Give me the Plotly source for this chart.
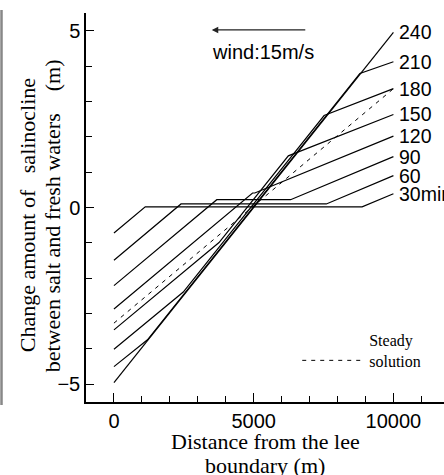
import plotly.graph_objects as go

# Interface displacement (m) along the basin (m) at successive times after wind onset
times = ["30min", "60", "90", "120", "150", "180", "210", "240"]
curve_x = [
    [0, 1120, 8880, 10000],
    [0, 2400, 7600, 10000],
    [0, 3680, 6320, 10000],
    [0, 4960, 5040, 10000],
    [0, 3760, 6240, 10000],
    [0, 2480, 7520, 10000],
    [0, 1200, 8800, 10000],
    [0, 5000, 10000],
]
curve_y = [
    [-0.72, 0.02, 0.02, 0.39],
    [-1.49, 0.10, 0.10, 0.90],
    [-2.21, 0.22, 0.22, 1.44],
    [-2.87, 0.41, 0.41, 2.02],
    [-3.46, -0.99, 1.46, 2.63],
    [-4.01, -2.39, 2.60, 3.36],
    [-4.50, -3.74, 3.79, 4.12],
    [-4.95, 0.00, 4.95],
]

# Steady-state solution
steady_x = [0, 10000]
steady_y = [-3.27, 3.36]

x_ticks = [0, 5000, 10000]
x_tick_text = ["0", "5000", "10000"]
y_ticks = [-5, 0, 5]

SANS = "Liberation Sans, Arial, sans-serif"
SERIF = "Liberation Serif, Times New Roman, serif"

fig = go.Figure()

for xs, ys in zip(curve_x, curve_y):
    fig.add_trace(go.Scatter(
        x=xs, y=ys, mode="lines",
        line=dict(color="black", width=1.2),
        showlegend=False, hoverinfo="skip",
    ))

fig.add_trace(go.Scatter(
    x=steady_x, y=steady_y, mode="lines",
    name="Steady<br>solution",
    line=dict(color="black", width=1, dash="4px,5px"),
    showlegend=True, hoverinfo="skip",
))

annotations = []
for label, xs, ys in zip(times, curve_x, curve_y):
    annotations.append(dict(
        x=xs[-1], y=ys[-1], xref="x", yref="y", text=label,
        showarrow=False, xanchor="left", yanchor="middle", xshift=4,
        font=dict(family=SANS, size=19.5, color="black"),
    ))

# Wind direction arrow and caption
annotations.append(dict(
    x=3500, y=5.02, ax=6900, ay=5.02, xref="x", yref="y", axref="x", ayref="y",
    text="", showarrow=True, arrowhead=2, arrowsize=1, arrowwidth=1.3,
    arrowcolor="#222",
))
annotations.append(dict(
    x=5350, y=4.41, xref="x", yref="y", text="wind:15m/s", showarrow=False,
    xanchor="center", yanchor="middle",
    font=dict(family=SANS, size=20, color="black"),
))

# Axis titles (two lines each)
annotations += [
    dict(x=-0.165, y=0.48, xref="paper", yref="paper",
         text="Change amount of\u00a0\u00a0\u00a0salinocline", textangle=-90,
         showarrow=False, xanchor="center", yanchor="middle",
         font=dict(family=SERIF, size=22, color="black")),
    dict(x=-0.095, y=0.48, xref="paper", yref="paper",
         text="between salt and fresh waters\u00a0\u00a0\u00a0\u00a0(m)", textangle=-90,
         showarrow=False, xanchor="center", yanchor="middle",
         font=dict(family=SERIF, size=22, color="black")),
    dict(x=0.5, y=-0.102, xref="paper", yref="paper",
         text="Distance from the lee", showarrow=False,
         xanchor="center", yanchor="middle",
         font=dict(family=SERIF, size=22, color="black")),
    dict(x=0.5, y=-0.163, xref="paper", yref="paper",
         text="boundary (m)", showarrow=False,
         xanchor="center", yanchor="middle",
         font=dict(family=SERIF, size=22, color="black")),
]

fig.update_layout(
    width=444, height=475,
    margin=dict(l=86, r=0, t=13, b=73),
    paper_bgcolor="white", plot_bgcolor="white",
    annotations=annotations,
    shapes=[dict(type="line", xref="paper", yref="paper",
                 x0=-0.236, x1=-0.236, y0=-0.008, y1=1.008,
                 line=dict(color="#888888", width=2.5))],
    legend=dict(x=0.59, y=0.204, xanchor="left", yanchor="top",
                bgcolor="rgba(0,0,0,0)", valign="bottom", itemwidth=62,
                font=dict(family=SERIF, size=16, color="black")),
    xaxis=dict(
        range=[-1000, 11810], tickmode="array", tickvals=x_ticks,
        ticktext=x_tick_text,
        ticks="inside", ticklen=9, tickwidth=1, tickcolor="black",
        showline=True, linecolor="black", linewidth=1.5, mirror=False,
        showgrid=False, zeroline=False,
        tickfont=dict(family=SANS, size=20, color="black"),
        minor=dict(dtick=1000, tick0=0, ticks="inside", ticklen=6,
                   tickcolor="black", tickwidth=1, showgrid=False),
    ),
    xaxis2=dict(
        overlaying="x", side="top", matches="x", showline=True,
        linecolor="#444444", linewidth=1.5, ticks="", showticklabels=False,
        showgrid=False, zeroline=False,
    ),
    yaxis=dict(
        range=[-5.5, 5.5], tickmode="array", tickvals=y_ticks,
        ticks="inside", ticklen=8, tickwidth=1, tickcolor="black",
        showline=True, linecolor="black", linewidth=1.5, mirror=False,
        showgrid=False, zeroline=False,
        tickfont=dict(family=SANS, size=20, color="black"),
        minor=dict(dtick=1, tick0=0, ticks="inside", ticklen=6,
                   tickcolor="black", tickwidth=1, showgrid=False),
    ),
    yaxis2=dict(
        overlaying="y", side="right", matches="y", showline=False,
        ticks="inside", ticklen=3, tickwidth=1, tickcolor="black",
        dtick=1, tick0=0, showticklabels=False, showgrid=False, zeroline=False,
    ),
)

fig.write_html("out.html")
